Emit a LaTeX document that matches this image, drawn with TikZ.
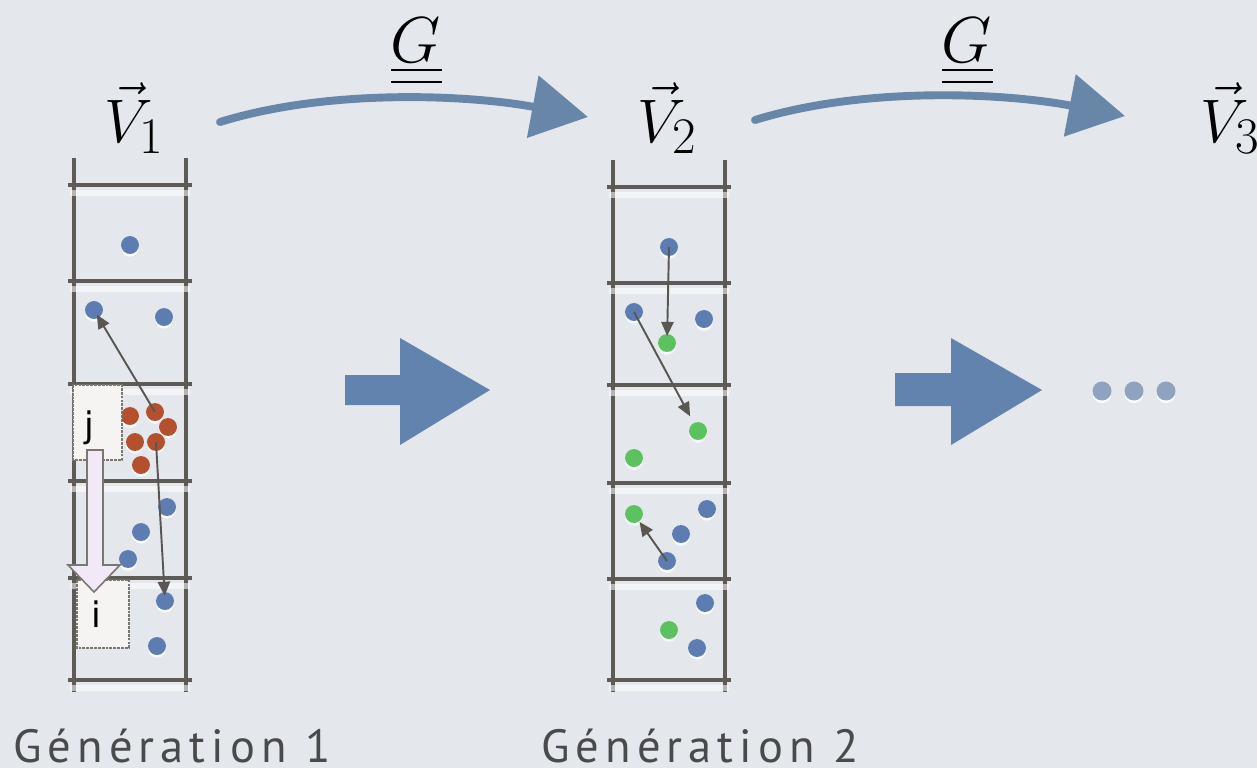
\documentclass[tikz,border=0pt]{standalone}
\usepackage{fontspec}
\newfontfamily\genfont[LetterSpace=13]{PT Sans}
\newfontfamily\boxfont{DejaVu Sans}
\usetikzlibrary{arrows.meta,shadows}
\definecolor{bgc}{HTML}{E4E8ED}
\definecolor{ladc}{HTML}{5E5A56}
\definecolor{dblue}{HTML}{5D7DB2}
\definecolor{dred}{HTML}{B5502E}
\definecolor{dgreen}{HTML}{5CC15F}
\definecolor{elc}{HTML}{8FA3C0}
\definecolor{brushc}{HTML}{6886A8}
\definecolor{blockc}{HTML}{6283AD}
\definecolor{arrc}{HTML}{5A5652}
\definecolor{boxfill}{HTML}{F5F4F2}
\definecolor{boxline}{HTML}{7A7672}
\definecolor{lav}{HTML}{F2E9F7}
\definecolor{gentxt}{HTML}{4A4A4A}
\tikzset{
  ladder/.style={line width=2.7pt, draw=ladc},
  rungglow/.style={line width=3pt, draw=white, opacity=0.55},
  dot/.style={circle, inner sep=0pt, minimum size=10.2pt,
    drop shadow={shadow xshift=0pt, shadow yshift=-1.5pt, fill=white, opacity=0.85}},
  bdot/.style={dot, fill=dblue},
  rdot/.style={dot, fill=dred},
  gdot/.style={dot, fill=dgreen},
  edot/.style={dot, fill=elc, minimum size=10.8pt},
  darr/.style={draw=arrc, line width=1.1pt, -{Triangle[length=8pt,width=7pt]}},
  brush/.style={draw=brushc, line width=4.5pt, line cap=round, -{Triangle[length=32pt,width=35pt]}},
  vlab/.style={font=\Huge, scale=1.407, inner sep=0pt, anchor=base},
  glab/.style={font=\Huge, scale=1.487, inner sep=0pt, anchor=base},
  gline/.style={line width=1.5pt, draw=black},
  genlab/.style={font=\genfont\fontsize{26.5}{30}\selectfont, text=gentxt, inner sep=0pt, anchor=base},
  tagbox/.style={fill=boxfill, draw=boxline, line width=1.1pt, dash pattern=on 1.6pt off 0.6pt},
  tagtxt/.style={font=\boxfont\fontsize{20}{24}\selectfont, inner sep=0pt},
}
\begin{document}
\begin{tikzpicture}[x=0.02cm, y=-0.02cm]
\useasboundingbox (0,0) rectangle (1257,768);
\fill[bgc] (0,0) rectangle (1257,768);

% ---------- ladder 1 ----------
\draw[ladder] (74,158) -- (74,692) (186,158) -- (186,692);
\foreach \yy in {185,281,384,481,578,680} {
  \draw[ladder] (68,\yy) -- (192,\yy);
  \draw[rungglow] (70,\yy+8) -- (190,\yy+8);
}
% ---------- ladder 2 ----------
\draw[ladder] (613,160) -- (613,692) (725,160) -- (725,692);
\foreach \yy in {187,283,385,483,579,680} {
  \draw[ladder] (607,\yy) -- (731,\yy);
  \draw[rungglow] (609,\yy+8) -- (729,\yy+8);
}

% ---------- dots ladder 1 ----------
\node[bdot] (a1) at (130,245) {};
\node[bdot] (a2) at (94,310) {};
\node[bdot] (a3) at (164,317) {};
\node[rdot] (r1) at (130,416) {};
\node[rdot] (r2) at (155,412) {};
\node[rdot] (r3) at (168,427) {};
\node[rdot] (r4) at (135,442) {};
\node[rdot] (r5) at (156,442) {};
\node[rdot] (r6) at (141,465) {};
\node[bdot] (a4) at (167,507) {};
\node[bdot] (a5) at (141,532) {};
\node[bdot] (a6) at (128,559) {};
\node[bdot] (a7) at (165,601) {};
\node[bdot] (a8) at (157,646) {};

% tag boxes j and i
\draw[tagbox] (73,385) rectangle (122,460);
\node[tagtxt] (jt) at (89,428) {j};
\draw[tagbox] (77,580) rectangle (129,648);
\node[tagtxt] (it) at (96,614) {i};
% down arrow
\filldraw[fill=lav, draw=boxline, line width=0.9pt]
  (87,450) -- (103,450) -- (103,565) -- (120,565) -- (94,592) -- (68,565) -- (87,565) -- cycle;

\draw[darr, shorten >=3pt] (r2.center) -- (a2.center);
\draw[darr, shorten >=3pt] (r5.center) -- (a7.center);

% ---------- dots ladder 2 ----------
\node[bdot] (b1) at (669,247) {};
\node[bdot] (b2) at (634,312) {};
\node[bdot] (b3) at (704,319) {};
\node[gdot] (c1) at (667,343) {};
\node[gdot] (c2) at (698,431) {};
\node[gdot] (c3) at (634,458) {};
\node[bdot] (b4) at (707,509) {};
\node[gdot] (c4) at (634,514) {};
\node[bdot] (b5) at (681,534) {};
\node[bdot] (b6) at (667,561) {};
\node[bdot] (b7) at (705,603) {};
\node[gdot] (c5) at (669,630) {};
\node[bdot] (b8) at (697,648) {};

\draw[darr, shorten >=4pt] (b1.center) -- (c1.center);
\draw[darr, shorten >=9.5pt] (b2.center) -- (c2.center);
\draw[darr, shorten >=5.5pt] (b6.center) -- (c4.center);

% ---------- labels ----------
\node[vlab] (v1) at (134,142) {$\vec{V}_1$};
\node[vlab] (v2) at (667,142) {$\vec{V}_2$};
\node[vlab] (v3) at (1230,142) {$\vec{V}_3$};
\node[glab] (g1) at (416,62) {$G$};
\node[glab] (g2) at (967,62) {$G$};
\draw[gline] (391,70) -- (442,70) (391,82) -- (442,82);
\draw[gline] (942,70) -- (993,70) (942,82) -- (993,82);

% ---------- brush arrows ----------
\coordinate (g1s) at (220,122);
\coordinate (g1e) at (588,117);
\draw[brush] (g1s) .. controls (330,88) and (470,95) .. (g1e);
\coordinate (g2s) at (755,120);
\coordinate (g2e) at (1125,116);
\draw[brush] (g2s) .. controls (865,86) and (1005,93) .. (g2e);

% ---------- block arrows ----------
\fill[blockc] (345,375) -- (400,375) -- (400,338) -- (490,390) -- (400,445) -- (400,405) -- (345,405) -- cycle;
\fill[blockc] (895,373) -- (951,373) -- (951,338) -- (1042,390) -- (951,445) -- (951,406) -- (895,406) -- cycle;

% ellipsis
\node[edot] (e1) at (1102,391) {};
\node[edot] (e2) at (1134,391) {};
\node[edot] (e3) at (1166,391) {};

% generation labels
\node[genlab] (gen1) at (172,762) {Génération 1};
\node[genlab] (gen2) at (700,762) {Génération 2};
\end{tikzpicture}
\end{document}
